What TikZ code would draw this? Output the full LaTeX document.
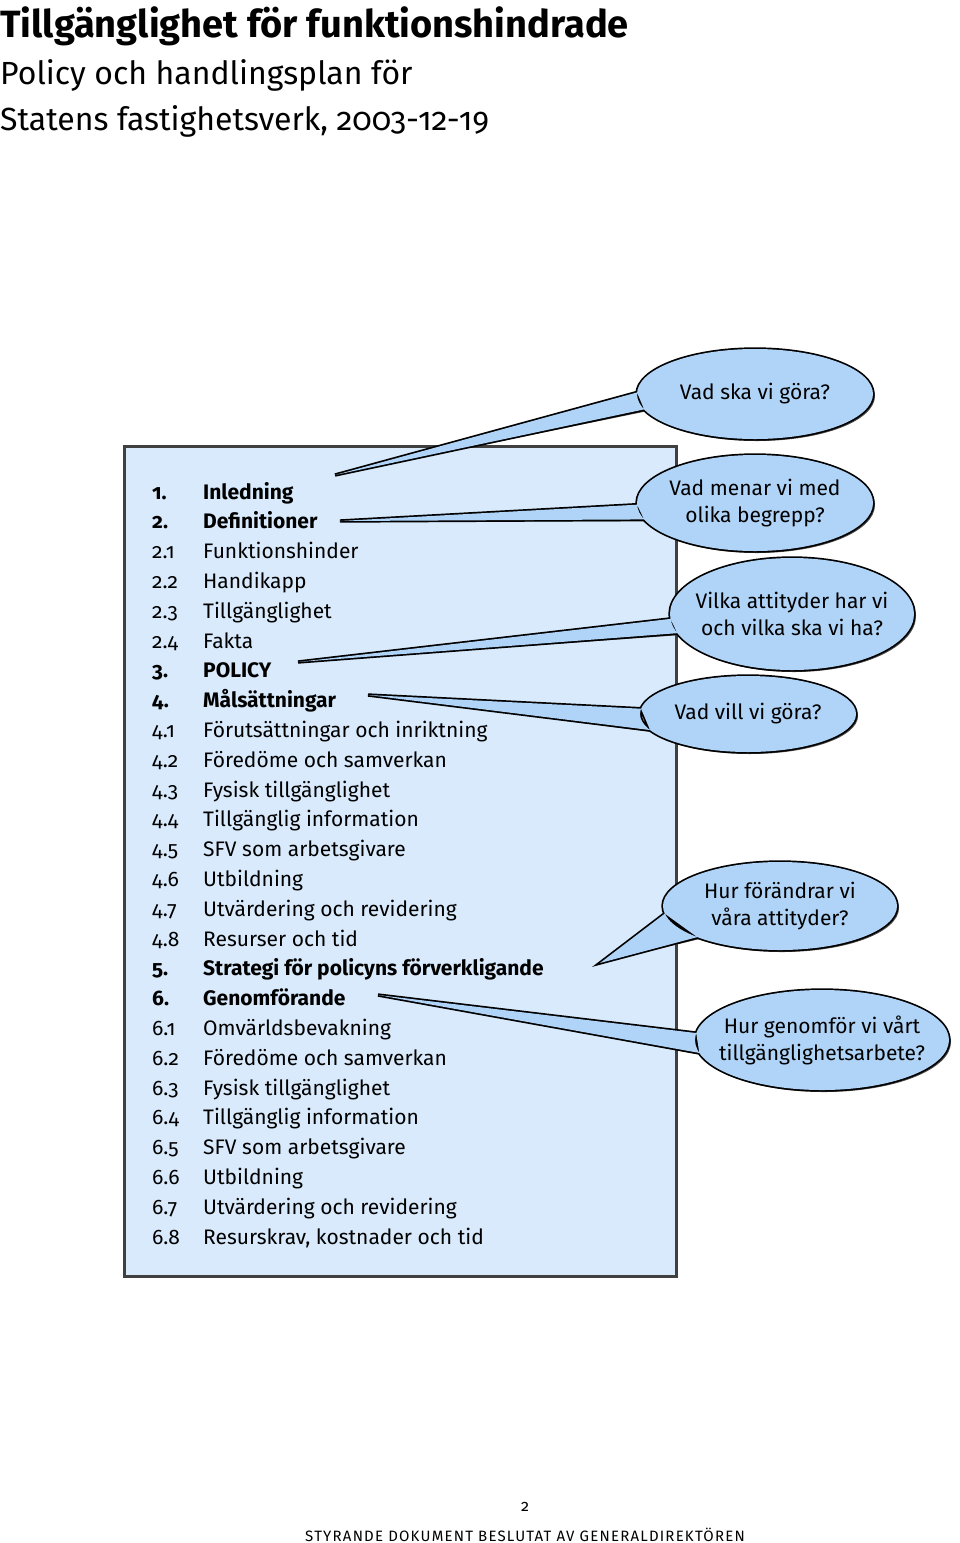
\documentclass[tikz,border=0pt]{standalone}
\usepackage{fontspec}
\setmainfont{Fira Sans}[Numbers=OldStyle]
\usetikzlibrary{calc}
\definecolor{boxfill}{HTML}{D8EAFB}
\definecolor{bubfill}{HTML}{B0D4F7}
\tikzset{
  item/.style={anchor=base west,font=\fontsize{21}{24}\selectfont,inner sep=0},
  itemb/.style={item,font=\fontsize{21}{24}\selectfont\bfseries},
  bubtext/.style={align=center,font=\fontsize{21}{27}\selectfont,inner sep=0}
}
% #1 name, #2 cx, #3 cy, #4 rx, #5 ry, #6 a1, #7 a2, #8 tipx, #9 tipy
\newcommand\mybubble[9]{%
  \coordinate (#1tip) at (#8,#9);
  \def\bshape{(#2,#3) ellipse [x radius=#4, y radius=#5]
    ({#2+#4*cos(#6)},{#3-#5*sin(#6)}) -- (#1tip) -- ({#2+#4*cos(#7)},{#3-#5*sin(#7)}) -- cycle}
  \fill[black!70,shift={(2,2)}] \bshape;
  \draw[line width=3.4] \bshape;
  \fill[bubfill] \bshape;
  \node[bubtext] (#1) at (#2,#3) {};
}
\begin{document}
\begin{tikzpicture}[x=1pt,y=-1pt]
\useasboundingbox (0,0) rectangle (960,1543);
\node[anchor=base west,inner sep=0,font=\fontsize{38}{40}\selectfont\bfseries] (title) at (0,37) {Tillgänglighet för funktionshindrade};
\node[anchor=base west,inner sep=0,font=\fontsize{32}{40}\selectfont] (sub1) at (0,84) {Policy och handlingsplan för};
\node[anchor=base west,inner sep=0,font=\fontsize{32}{40}\selectfont] (sub2) at (0,130) {Statens fastighetsverk, 2003-12-19};

\node[draw=black!75,line width=2.5,fill=boxfill,minimum width=552,minimum height=830,anchor=north west,inner sep=0] (box) at (123,445) {};

\foreach \n/\t/\bb [count=\i from 0] in {
 1./Inledning/1, 2./Definitioner/1, 2.1/Funktionshinder/0, 2.2/Handikapp/0,
 2.3/Tillgänglighet/0, 2.4/Fakta/0, 3./POLICY/1, 4./Målsättningar/1,
 4.1/Förutsättningar och inriktning/0, 4.2/Föredöme och samverkan/0,
 4.3/Fysisk tillgänglighet/0, 4.4/Tillgänglig information/0,
 4.5/SFV som arbetsgivare/0, 4.6/Utbildning/0, 4.7/Utvärdering och revidering/0,
 4.8/Resurser och tid/0, 5./Strategi för policyns förverkligande/1,
 6./Genomförande/1, 6.1/Omvärldsbevakning/0, 6.2/Föredöme och samverkan/0,
 6.3/Fysisk tillgänglighet/0, 6.4/Tillgänglig information/0,
 6.5/SFV som arbetsgivare/0, 6.6/Utbildning/0, 6.7/Utvärdering och revidering/0,
 6.8/{Resurskrav, kostnader och tid}/0}{
  \ifnum\bb=1
    \node[itemb] (n\i) at (152,{499+29.8*\i}) {\n};
    \node[itemb] (t\i) at (203,{499+29.8*\i}) {\t};
  \else
    \node[item] (n\i) at (152,{499+29.8*\i}) {\n};
    \node[item] (t\i) at (203,{499+29.8*\i}) {\t};
  \fi
}

\mybubble{b1}{755}{394}{118}{45}{178}{200}{335}{475}
\node[bubtext] at (b1) {Vad ska vi göra?};
\mybubble{b2}{755}{503}{118}{48}{182}{200}{340}{521}
\node[bubtext] at (b2) {Vad menar vi med\\olika begrepp?};
\mybubble{b3}{792}{614}{122}{56}{185}{200}{298}{662}
\node[bubtext] at (b3) {Vilka attityder har vi\\och vilka ska vi ha?};
\mybubble{b4}{748}{714}{108}{38}{172}{205}{368}{695}
\node[bubtext] at (b4) {Vad vill vi göra?};
\mybubble{b5}{780}{906}{117}{44}{190}{225}{600}{963}
\node[bubtext] at (b5) {Hur förändrar vi\\våra attityder?};
\mybubble{b6}{822}{1040}{127}{50}{172}{195}{378}{995}
\node[bubtext] at (b6) {Hur genomför vi vårt\\tillgänglighetsarbete?};

\node[inner sep=0,font=\fontsize{16}{18}\selectfont] (pg) at (525,1507) {2};
\node[inner sep=0,font=\fontsize{15}{18}\selectfont,anchor=base] (foot) at (525,1541) {\addfontfeatures{LetterSpace=8}STYRANDE DOKUMENT BESLUTAT AV GENERALDIREKTÖREN};
\end{tikzpicture}
\end{document}
